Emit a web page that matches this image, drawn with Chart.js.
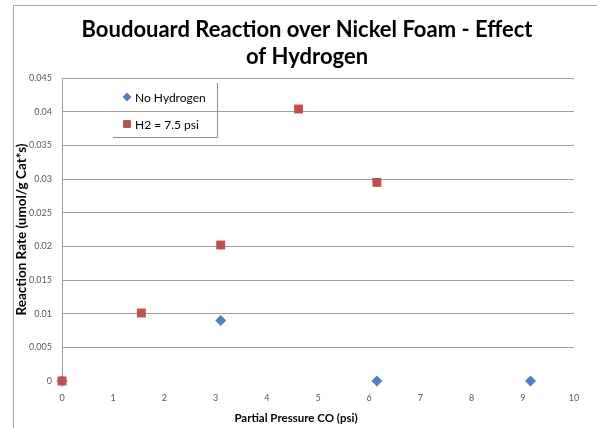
<!DOCTYPE html>
<html>
<head>
<meta charset="utf-8">
<script src="https://cdn.jsdelivr.net/npm/chart.js@4.4.1/dist/chart.umd.min.js"></script>
<style>
  html, body { margin: 0; padding: 0; background: #fff; }
  #wrap { width: 597px; height: 428px; }
</style>
</head>
<body>
<div id="wrap"><canvas id="chart"></canvas></div>
<script>
// Data
const titleLines = ['Boudouard Reaction over Nickel Foam - Effect', 'of Hydrogen'];
const xTitle = 'Partial Pressure CO (psi)';
const noH2Pressure = [0, 3.1, 6.15, 9.15];
const noH2Rate = [0, 0.009, 0, 0];
const h2Pressure = [0, 1.55, 3.1, 4.62, 6.15];
const h2Rate = [0, 0.0101, 0.0202, 0.0404, 0.0295];

const toPoints = (xs, ys) => xs.map((x, i) => ({ x: x, y: ys[i] }));

// draws the frame, the title, the x title and the in-plot legend box
const decorations = {
  id: 'decorations',
  afterDraw(chart) {
    const ctx = chart.ctx;
    ctx.save();
    // outer chart frame (only top and left edges are visible)
    ctx.strokeStyle = '#a6a6a6';
    ctx.lineWidth = 1;
    ctx.beginPath();
    ctx.moveTo(13.5, 428);
    ctx.lineTo(13.5, 5.5);
    ctx.lineTo(597, 5.5);
    ctx.stroke();

    // title
    ctx.fillStyle = '#000';
    ctx.font = 'bold 22px Lato, "Open Sans", sans-serif';
    ctx.textAlign = 'center';
    ctx.textBaseline = 'alphabetic';
    ctx.fillText(titleLines[0], 307, 37);
    ctx.fillText(titleLines[1], 307, 64);

    // x axis title (centred on the whole chart, as in the original)
    ctx.font = 'bold 11.5px Lato, sans-serif';
    ctx.textBaseline = 'middle';
    ctx.fillText(xTitle, 296, 418);

    // legend
    const lx = 113, ly = 83, lw = 104, lh = 54;
    ctx.strokeStyle = '#8c8c8c';
    ctx.beginPath();
    ctx.moveTo(lx + lw + 0.5, ly);
    ctx.lineTo(lx + lw + 0.5, ly + lh + 0.5);
    ctx.lineTo(lx, ly + lh + 0.5);
    ctx.stroke();

    ctx.font = '12px Lato, "Open Sans", sans-serif';
    ctx.textAlign = 'left';
    ctx.textBaseline = 'middle';
    chart.data.datasets.forEach((ds, i) => {
      const cy = ly + 14 + i * 27;
      Chart.helpers.drawPoint(ctx, {
        pointStyle: ds.pointStyle,
        radius: i === 0 ? 4 : 5,
        borderWidth: 0
      }, 127, cy);
      ctx.fillStyle = ds.backgroundColor;
      ctx.fill();
      ctx.fillStyle = '#000';
      ctx.fillText(ds.label, 135, cy + 1);
    });
    ctx.restore();
  }
};

new Chart(document.getElementById('chart'), {
  type: 'scatter',
  data: {
    datasets: [
      {
        label: 'No Hydrogen',
        data: toPoints(noH2Pressure, noH2Rate),
        pointStyle: 'rectRot',
        pointRadius: 5.5,
        backgroundColor: '#4F81BD',
        borderColor: '#4F81BD',
        borderWidth: 0,
        clip: false,
        order: 1
      },
      {
        label: 'H2 = 7.5 psi',
        data: toPoints(h2Pressure, h2Rate),
        pointStyle: 'rect',
        pointRadius: 6.3,
        backgroundColor: '#C0504D',
        borderColor: '#C0504D',
        borderWidth: 0,
        clip: false,
        order: 0
      }
    ]
  },
  options: {
    responsive: true,
    maintainAspectRatio: false,
    animation: false,
    layout: { padding: { left: 0, top: 78, right: 23, bottom: 0 } },
    plugins: {
      legend: { display: false },
      tooltip: { enabled: false }
    },
    scales: {
      x: {
        type: 'linear',
        min: 0,
        max: 10,
        afterFit: s => { s.height = 47; },
        ticks: { stepSize: 1, padding: 12, color: '#595959', font: { family: 'Lato, sans-serif', size: 9 } },
        grid: { display: false, drawTicks: false },
        border: { display: false }
      },
      y: {
        min: 0,
        max: 0.045,
        afterFit: s => { s.width = 62; },
        ticks: {
          stepSize: 0.005,
          padding: 10,
          color: '#595959',
          font: { family: 'Lato, sans-serif', size: 9 },
          callback: v => parseFloat(v.toFixed(3)).toString()
        },
        grid: {
          drawTicks: false,
          color: ctx => ctx.tick.value === 0 ? 'rgba(0,0,0,0)' : '#a0a0a0'
        },
        border: { display: true, color: '#a0a0a0' },
        title: {
          display: true,
          text: 'Reaction Rate (umol/g Cat*s)',
          color: '#000',
          font: { family: 'Lato, sans-serif', size: 13.5, weight: 'bold' },
          padding: { top: 14, bottom: 0 }
        }
      }
    }
  },
  plugins: [decorations]
});
</script>
</body>
</html>
